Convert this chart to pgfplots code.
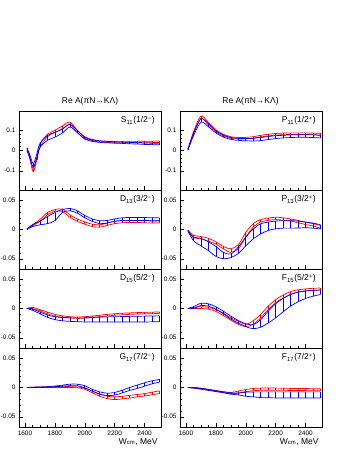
\documentclass[border=0pt]{standalone}
\usepackage{fontspec}
\setmainfont{Liberation Sans}
\usepackage{pgfplots}
\usepackage{pgfplotstable}
\pgfplotsset{compat=1.18}

% columns: x, red band low/high, blue band low/high
\pgfplotstableread{
x rl rh bl bh
1613 0.000 0.006 0.000 0.010
1630 -0.035 -0.022 -0.030 -0.015
1655 -0.105 -0.090 -0.082 -0.065
1680 -0.045 -0.030 -0.035 -0.015
1700 0.015 0.030 0.015 0.035
1750 0.068 0.080 0.050 0.074
1800 0.088 0.100 0.066 0.090
1850 0.108 0.121 0.086 0.105
1900 0.128 0.140 0.116 0.129
1950 0.090 0.100 0.088 0.099
2000 0.060 0.068 0.056 0.065
2050 0.048 0.055 0.045 0.052
2100 0.042 0.048 0.040 0.047
2150 0.040 0.046 0.038 0.045
2200 0.038 0.045 0.036 0.043
2250 0.038 0.045 0.035 0.042
2300 0.038 0.045 0.033 0.040
2350 0.038 0.045 0.032 0.039
2400 0.038 0.046 0.030 0.037
2450 0.039 0.046 0.029 0.036
2500 0.039 0.047 0.028 0.035
}\tSa

\pgfplotstableread{
x rl rh bl bh
1613 0.002 0.006 0.002 0.006
1650 0.080 0.092 0.072 0.084
1700 0.158 0.170 0.140 0.157
1750 0.126 0.138 0.117 0.132
1800 0.092 0.102 0.087 0.098
1850 0.072 0.080 0.066 0.076
1900 0.060 0.068 0.055 0.064
1950 0.057 0.064 0.050 0.060
2000 0.058 0.065 0.048 0.059
2050 0.061 0.068 0.047 0.060
2100 0.067 0.075 0.049 0.064
2150 0.072 0.080 0.054 0.069
2200 0.076 0.084 0.059 0.073
2250 0.078 0.086 0.062 0.075
2300 0.079 0.087 0.064 0.077
2350 0.079 0.087 0.065 0.078
2400 0.079 0.087 0.065 0.078
2450 0.078 0.086 0.064 0.077
2500 0.076 0.085 0.062 0.075
}\tPa

\pgfplotstableread{
x rl rh bl bh
1613 0.000 0.001 0.000 0.001
1650 0.006 0.008 0.005 0.008
1700 0.014 0.017 0.008 0.014
1750 0.025 0.029 0.010 0.022
1800 0.031 0.034 0.015 0.029
1850 0.031 0.035 0.029 0.034
1900 0.021 0.025 0.032 0.036
1950 0.014 0.018 0.028 0.032
2000 0.009 0.013 0.020 0.024
2050 0.005 0.009 0.014 0.018
2100 0.004 0.008 0.010 0.015
2150 0.007 0.011 0.011 0.0155
2200 0.010 0.014 0.014 0.018
2250 0.0115 0.015 0.0155 0.020
2300 0.012 0.015 0.0155 0.0205
2350 0.012 0.015 0.0155 0.0205
2400 0.0115 0.015 0.0155 0.0205
2450 0.011 0.0145 0.015 0.020
2500 0.011 0.0145 0.015 0.020
}\tDa

\pgfplotstableread{
x rl rh bl bh
1613 -0.003 -0.001 -0.003 -0.001
1650 -0.014 -0.010 -0.019 -0.013
1700 -0.016 -0.012 -0.028 -0.015
1750 -0.020 -0.015 -0.036 -0.021
1800 -0.025 -0.021 -0.046 -0.029
1850 -0.033 -0.029 -0.050 -0.039
1900 -0.039 -0.033 -0.048 -0.042
1950 -0.033 -0.026 -0.041 -0.030
2000 -0.013 -0.005 -0.028 -0.013
2050 0.004 0.010 -0.016 0.001
2100 0.013 0.017 -0.0075 0.0098
2150 0.0155 0.0195 -0.0017 0.0126
2200 0.017 0.021 0.0011 0.0144
2250 0.016 0.020 0.0023 0.015
2300 0.0145 0.018 0.0023 0.015
2350 0.0115 0.0155 0.0025 0.0144
2400 0.0085 0.0125 0.003 0.0126
2450 0.006 0.010 0.0023 0.011
2500 0.0023 0.007 0.001 0.008
}\tPb

\pgfplotstableread{
x rl rh bl bh
1613 0.000 0.000 0.000 0.000
1650 0.000 0.002 -0.003 -0.001
1700 -0.004 -0.002 -0.009 -0.006
1750 -0.009 -0.006 -0.015 -0.011
1800 -0.013 -0.010 -0.019 -0.014
1850 -0.015 -0.0125 -0.021 -0.0155
1900 -0.016 -0.014 -0.022 -0.016
1950 -0.017 -0.0145 -0.0225 -0.016
2000 -0.0165 -0.014 -0.023 -0.016
2050 -0.015 -0.0128 -0.023 -0.0154
2100 -0.014 -0.0115 -0.023 -0.0148
2150 -0.0128 -0.010 -0.023 -0.0144
2200 -0.0115 -0.009 -0.023 -0.014
2250 -0.0108 -0.008 -0.023 -0.0138
2300 -0.010 -0.0075 -0.023 -0.0135
2350 -0.0095 -0.007 -0.023 -0.0132
2400 -0.009 -0.0065 -0.023 -0.013
2450 -0.0088 -0.0062 -0.0228 -0.0128
2500 -0.0085 -0.006 -0.0225 -0.0125
}\tDb

\pgfplotstableread{
x rl rh bl bh
1613 0.000 0.000 0.000 0.000
1650 0.000 0.002 0.000 0.003
1700 0.000 0.003 0.005 0.009
1750 -0.001 0.002 0.004 0.008
1800 -0.005 -0.002 -0.001 0.003
1850 -0.012 -0.008 -0.009 -0.0046
1900 -0.020 -0.016 -0.018 -0.013
1950 -0.027 -0.022 -0.025 -0.0207
2000 -0.031 -0.027 -0.031 -0.026
2050 -0.027 -0.021 -0.0345 -0.0276
2100 -0.016 -0.010 -0.032 -0.019
2150 -0.002 0.004 -0.0247 -0.0046
2200 0.010 0.015 -0.016 0.008
2250 0.018 0.023 -0.0057 0.0172
2300 0.024 0.029 0.004 0.024
2350 0.028 0.032 0.0115 0.028
2400 0.030 0.0335 0.0172 0.030
2450 0.031 0.0345 0.021 0.031
2500 0.0315 0.035 0.024 0.0316
}\tFa

\pgfplotstableread{
x rl rh bl bh
1613 0.000 0.000 0.000 0.000
1650 0.000 0.0005 0.000 0.0005
1700 0.000 0.001 0.000 0.001
1750 0.000 0.001 0.0005 0.0015
1800 0.000 0.0015 0.001 0.0025
1850 0.000 0.002 0.0023 0.004
1900 0.000 0.0015 0.003 0.0057
1950 -0.0005 0.001 0.003 0.0057
2000 -0.003 -0.001 -0.0006 0.003
2050 -0.009 -0.006 -0.0063 -0.003
2100 -0.015 -0.011 -0.0115 -0.0075
2150 -0.019 -0.015 -0.0138 -0.0098
2200 -0.0207 -0.016 -0.013 -0.0086
2250 -0.0195 -0.015 -0.0092 -0.0046
2300 -0.018 -0.0135 -0.005 0.000
2350 -0.016 -0.012 -0.0017 0.004
2400 -0.0145 -0.0105 0.0023 0.008
2450 -0.0125 -0.008 0.0063 0.0115
2500 -0.0103 -0.0057 0.0092 0.0138
}\tGa

\pgfplotstableread{
x rl rh bl bh
1613 0.000 0.000 0.000 0.000
1650 -0.001 0.000 -0.001 0.000
1700 -0.002 -0.001 -0.003 -0.0015
1750 -0.004 -0.003 -0.005 -0.0035
1800 -0.006 -0.005 -0.007 -0.0055
1850 -0.0085 -0.007 -0.009 -0.0075
1900 -0.0105 -0.0085 -0.0115 -0.009
1950 -0.0095 -0.006 -0.0125 -0.0095
2000 -0.007 -0.0035 -0.015 -0.008
2050 -0.0055 -0.0017 -0.016 -0.0075
2100 -0.0048 -0.001 -0.0172 -0.0075
2150 -0.0048 -0.001 -0.0175 -0.0075
2200 -0.0048 -0.001 -0.0178 -0.0075
2250 -0.0049 -0.0012 -0.0178 -0.0075
2300 -0.005 -0.0015 -0.0178 -0.0075
2350 -0.0052 -0.0017 -0.0178 -0.0075
2400 -0.0053 -0.0018 -0.0178 -0.0075
2450 -0.0055 -0.002 -0.0178 -0.0075
2500 -0.0057 -0.0023 -0.0178 -0.0075
}\tFb

\newcommand\ticksize{\fontsize{6.5}{7}\selectfont}
\newcommand\labsize{\fontsize{8.5}{9}\selectfont}

\pgfplotsset{
  panel/.style={
    scale only axis, width=142bp, height=79bp,
    anchor=south west,
    xmin=1560, xmax=2510,
    axis line style={line width=0.8bp},
    tick align=inside, xtick pos=left, ytick pos=left,
    xtick={1600,1800,2000,2200,2400}, xticklabels={},
    scaled x ticks=false, scaled y ticks=false,
    minor x tick num=3, minor y tick num=4,
    major tick length=4bp, minor tick length=2bp,
    every tick/.style={black, line width=0.5bp},
    tick label style={font=\ticksize},
    clip=true,
  },
  big/.style={ymin=-0.195, ymax=0.195, ytick={-0.1,0,0.1}, yticklabels={-0.1,0,0.1}},
  small/.style={ymin=-0.0675, ymax=0.0675, ytick={-0.05,0,0.05}, yticklabels={-0.05,0,0.05}},
  bottom/.style={xticklabels={1600,1800,2000,2200,2400}},
}

% a hatched band: two borders plus vertical hatch strokes from low to high
\newcommand\band[4]{%
  \addplot[#4, smooth, line width=0.7bp] table[x=x, y=#2] {#1};
  \addplot[#4, smooth, line width=0.7bp] table[x=x, y=#3] {#1};
  \addplot[#4, line width=0.6bp, mark=none,
    quiver={u=0, v=\thisrow{#3}-\thisrow{#2}}]
    table[x=x, y=#2] {#1};
}
\newcommand\plab[1]{\node[anchor=base east, font=\labsize] at (rel axis cs:0.98,0.85) {#1};}

\begin{document}
\begin{tikzpicture}
\path[use as bounding box] (0,0) rectangle (349bp,451bp);

\node[font=\labsize] at (90bp,350bp) {Re A(πN→KΛ)};
\node[font=\labsize] at (250.5bp,350bp) {Re A(πN→KΛ)};

% left column
\begin{axis}[panel, big, at={(19bp,261bp)}]
  \band{\tSa}{rl}{rh}{red}
  \band{\tSa}{bl}{bh}{blue}
  \plab{S\textsubscript{11}(1/2\textsuperscript{−})}
\end{axis}
\begin{axis}[panel, small, at={(19bp,182bp)}]
  \band{\tDa}{rl}{rh}{red}
  \band{\tDa}{bl}{bh}{blue}
  \plab{D\textsubscript{13}(3/2\textsuperscript{−})}
\end{axis}
\begin{axis}[panel, small, at={(19bp,103bp)}]
  \band{\tDb}{rl}{rh}{red}
  \band{\tDb}{bl}{bh}{blue}
  \plab{D\textsubscript{15}(5/2\textsuperscript{−})}
\end{axis}
\begin{axis}[panel, small, bottom, at={(19bp,24bp)}]
  \band{\tGa}{rl}{rh}{red}
  \band{\tGa}{bl}{bh}{blue}
  \plab{G\textsubscript{17}(7/2\textsuperscript{−})}
\end{axis}

% right column
\begin{axis}[panel, big, at={(180bp,261bp)}]
  \band{\tPa}{rl}{rh}{red}
  \band{\tPa}{bl}{bh}{blue}
  \plab{P\textsubscript{11}(1/2\textsuperscript{+})}
\end{axis}
\begin{axis}[panel, small, at={(180bp,182bp)}]
  \band{\tPb}{rl}{rh}{red}
  \band{\tPb}{bl}{bh}{blue}
  \plab{P\textsubscript{13}(3/2\textsuperscript{+})}
\end{axis}
\begin{axis}[panel, small, at={(180bp,103bp)}]
  \band{\tFa}{rl}{rh}{red}
  \band{\tFa}{bl}{bh}{blue}
  \plab{F\textsubscript{15}(5/2\textsuperscript{+})}
\end{axis}
\begin{axis}[panel, small, bottom, at={(180bp,24bp)}]
  \band{\tFb}{rl}{rh}{red}
  \band{\tFb}{bl}{bh}{blue}
  \plab{F\textsubscript{17}(7/2\textsuperscript{+})}
\end{axis}

\node[anchor=base east, font=\labsize] at (161bp,7bp) {W\textsubscript{cm}, MeV};
\node[anchor=base east, font=\labsize] at (322bp,7bp) {W\textsubscript{cm}, MeV};
\end{tikzpicture}
\end{document}
